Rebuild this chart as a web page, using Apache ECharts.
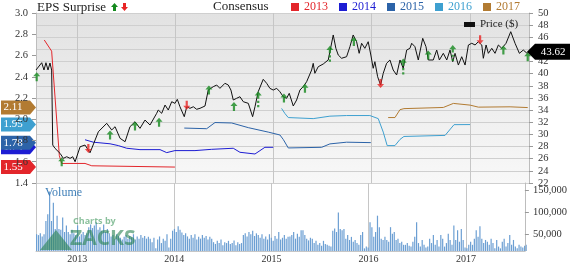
<!DOCTYPE html>
<html><head><meta charset="utf-8">
<script src="https://cdn.jsdelivr.net/npm/echarts@6/dist/echarts.min.js"></script>
<style>html,body{margin:0;padding:0;background:#fff}#c{width:570px;height:264px}</style>
</head><body><div id="c"></div><script>
// ---- data (x in decimal years) ----
const price = [[2012.583,40.61],[2012.641,41.81],[2012.664,40.61],[2012.684,41.81],[2012.705,40.61],[2012.725,41.76],[2012.742,40.6],[2012.753,28.25],[2012.776,27.71],[2012.827,26.89],[2012.861,26.06],[2012.895,26.33],[2012.929,26.06],[2012.956,26.33],[2012.980,25.5],[2013.031,27.97],[2013.081,28.25],[2013.132,26.98],[2013.217,30.44],[2013.302,31.83],[2013.353,30.73],[2013.387,31.27],[2013.438,29.36],[2013.489,28.8],[2013.539,31.27],[2013.590,32.09],[2013.641,31.0],[2013.692,32.37],[2013.743,31.55],[2013.811,33.48],[2013.827,34.02],[2013.862,33.48],[2013.896,34.84],[2013.929,34.02],[2013.964,35.39],[2013.997,35.12],[2014.021,35.78],[2014.048,34.56],[2014.092,32.92],[2014.117,34.56],[2014.150,34.30],[2014.184,34.56],[2014.218,34.14],[2014.252,34.30],[2014.303,34.68],[2014.336,37.31],[2014.387,37.86],[2014.422,38.14],[2014.455,37.59],[2014.506,38.42],[2014.540,38.14],[2014.567,37.31],[2014.591,35.67],[2014.625,35.95],[2014.659,36.21],[2014.693,35.39],[2014.744,35.12],[2014.788,32.92],[2014.812,34.56],[2014.845,37.03],[2014.896,39.08],[2014.931,38.42],[2014.964,37.59],[2014.998,37.31],[2015.033,37.59],[2015.066,37.03],[2015.100,36.21],[2015.134,35.95],[2015.161,36.77],[2015.202,34.68],[2015.236,35.67],[2015.270,37.31],[2015.303,37.86],[2015.338,38.68],[2015.389,40.61],[2015.405,41.71],[2015.422,40.07],[2015.456,41.15],[2015.507,41.6],[2015.558,42.26],[2015.575,43.62],[2015.609,46.38],[2015.636,44.18],[2015.660,43.08],[2015.694,42.54],[2015.745,42.8],[2015.779,44.45],[2015.812,46.38],[2015.847,45.27],[2015.873,43.36],[2015.898,45.01],[2015.931,44.18],[2015.965,45.27],[2015.992,43.08],[2016.016,40.89],[2016.033,41.98],[2016.061,39.51],[2016.091,38.14],[2016.118,40.07],[2016.152,41.71],[2016.186,42.26],[2016.219,40.61],[2016.254,39.79],[2016.288,42.26],[2016.321,40.89],[2016.356,43.9],[2016.389,44.18],[2016.407,45.01],[2016.440,44.45],[2016.474,42.26],[2016.519,45.83],[2016.552,44.45],[2016.576,42.26],[2016.626,42.26],[2016.661,43.9],[2016.688,42.26],[2016.728,43.36],[2016.763,42.26],[2016.796,43.9],[2016.824,41.98],[2016.847,43.36],[2016.881,41.43],[2016.915,42.8],[2016.949,41.43],[2016.983,44.73],[2017.017,45.01],[2017.051,44.73],[2017.084,45.27],[2017.119,44.73],[2017.135,42.54],[2017.163,44.73],[2017.186,43.36],[2017.221,44.18],[2017.254,43.36],[2017.288,44.73],[2017.323,44.18],[2017.366,45.01],[2017.414,46.92],[2017.458,45.01],[2017.502,43.36],[2017.542,43.9],[2017.580,43.36],[2017.600,43.62]];

const cons2013 = [[2012.667,2.746],[2012.742,2.641],[2012.820,1.657],[2012.844,1.584],[2013.081,1.584],[2013.150,1.562],[2013.997,1.55]];
const cons2014 = [[2013.081,1.807],[2013.166,1.784],[2013.336,1.769],[2013.420,1.752],[2013.506,1.727],[2013.641,1.714],[2013.845,1.714],[2013.862,1.705],[2013.913,1.686],[2013.997,1.705],[2014.201,1.705],[2014.371,1.717],[2014.591,1.727],[2014.659,1.689],[2014.812,1.673],[2014.913,1.736],[2014.998,1.736]];
const cons2015 = [[2014.092,1.917],[2014.320,1.911],[2014.405,1.969],[2014.575,1.965],[2014.744,1.921],[2014.947,1.879],[2015.066,1.852],[2015.100,1.81],[2015.151,1.73],[2015.491,1.736],[2015.575,1.768],[2015.745,1.784],[2015.992,1.78]];
const cons2016 = [[2015.083,2.102],[2015.117,2.054],[2015.151,2.016],[2015.405,2.006],[2015.575,2.029],[2015.745,2.035],[2015.982,2.035],[2016.067,2.006],[2016.118,1.879],[2016.158,1.752],[2016.237,1.752],[2016.288,1.81],[2016.328,1.838],[2016.746,1.848],[2016.837,1.949],[2017.0,1.95]];
const cons2017 = [[2016.168,2.016],[2016.237,2.016],[2016.288,2.09],[2016.328,2.10],[2016.728,2.111],[2016.830,2.149],[2017.0,2.133],[2017.084,2.114],[2017.407,2.117],[2017.587,2.11]];

const surpriseUp = [[2012.590,39.5],[2012.844,25.5],[2013.336,29.9],[2013.590,31.4],[2013.835,32.0],[2014.343,37.3],[2014.598,34.6],[2015.107,36.0],[2015.321,37.6],[2015.819,45.3],[2016.575,43.1],[2017.339,43.9],[2017.587,42.8]];
const surpriseUpBig = [[2014.845,35.8],[2015.575,43.3],[2016.321,41.2],[2016.824,43.4]];
const surpriseDown = [[2013.115,27.7],[2014.117,34.8],[2016.091,38.4],[2017.102,45.6]];

// weekly volume, thousands of shares
const volumeK = [50,48,52,45,50, 80,95,147,80,121, 62,92,62,60,88,55,70, 55,50,60,52,48,70,45,50,55,48,52,
66,72,64,70,77,60,66,58,72,55,62,52, 45,48,40,50,46,42,38,44,48,40,46,43,50,38,45,40,48,42,46,40,44,
40,32,42,18,38,45,30,40,35,50,20,40, 58,62,55,68,60,54,48,52, 45,40,48,42,50,38,44,40,48,42,46,38,44,40,
32,28,35,30,38,25,32,30,35,28,30,36,25,32,28,30, 48,52,45,55,50,58,46,52,48,42,50, 40,45,38,50,42,35,46,40,55,38,42,48,40,44,
45,48,55,40,51,44,59, 59,48,40,36,42,40,30,35, 26,30,24,35,28,26,24,22, 58,63,55,99,62,59,62,40,
48,37,44,33,37,30,26,48,55,18,22,20, 77,66,44,55,92,66,40,37,44,37,33, 66,51,55,37,40,30,33,26,26,30,24,
22,33,44,77,30,22,37,26,20,22,40,30, 48,26,37,22,48,40,22,30,51,37,26, 70,37,59,33,62,37,20,18,
26,33,26,40,59,44,68,40,30,37,33, 26,40,30,18,37,22,18,33,40,22,30, 48,26,37,22,18,26,22,20,24,26];
const volumeStart = 2012.583;
const xRange = [2012.583, 2017.60];
const years = ['2013','2014','2015','2016','2017'];

const colors = {'2013':'#e3262b','2014':'#1d1dd3','2015':'#2c63a8','2016':'#3ea0d0','2017':'#b27b32'};
const FONT = 'Liberation Serif';

function yr(d){const Y=Math.floor(d);const a=Date.UTC(Y,0,1),b=Date.UTC(Y+1,0,1);return a+(d-Y)*(b-a);}
const conv = arr => arr.map(p=>[yr(p[0]),p[1]]);
const WEEK = 7*86400000;
const volData = volumeK.map((v,i)=>[yr(volumeStart)+i*WEEK, v]);

const upPath = 'path://M3.5,0 L7,4 L4.6,4 L4.6,9 L2.4,9 L2.4,4 L0,4 Z';
const upBigPath = 'path://M3.5,0 L7,4 L4.6,4 L4.6,7 L2.4,7 L2.4,4 L0,4 Z M2.4,9 L4.6,9 L4.6,11 L2.4,11 Z M2.4,13 L4.6,13 L4.6,15 L2.4,15 Z';
const downPath = 'path://M2.4,0 L4.6,0 L4.6,5 L7,5 L3.5,9 L0,5 L2.4,5 Z';

const chart = echarts.init(document.getElementById('c'), null, {renderer:'canvas'});
const consSeries = [['2013',cons2013],['2014',cons2014],['2015',cons2015],['2016',cons2016],['2017',cons2017]].map(([n,d])=>({
  name:n, type:'line', xAxisIndex:0, yAxisIndex:0, data:conv(d), showSymbol:false, symbol:'none',
  lineStyle:{color:colors[n], width:1}, itemStyle:{color:colors[n]}, z:3, animation:false
}));

const xCommon = {type:'time', min:yr(xRange[0]), max:yr(xRange[1]), minInterval:365*86400000, maxInterval:366*86400000,
  splitLine:{show:true, lineStyle:{color:'#c6c6c6', width:1}}, axisTick:{show:false}};

chart.setOption({
  animation:false,
  textStyle:{fontFamily:FONT},
  grid:[
    {left:36, right:41, top:13, height:170, show:true, borderWidth:0,
     backgroundColor:{type:'linear',x:0,y:0,x2:0,y2:1,colorStops:[{offset:0,color:'#e2e2e2'},{offset:1,color:'#f8f8f8'}]}},
    {left:36, right:41, top:183, height:70, show:false}
  ],
  legend:[
    {data:years.map(y=>({name:y, textStyle:{color:colors[y]}})), left:291, top:1, padding:0, icon:'rect',
     itemWidth:8, itemHeight:8, itemGap:11, selectedMode:false, textStyle:{fontSize:12, fontFamily:FONT}},
    {data:['Price ($)'], left:464, top:19, padding:0, icon:'rect', itemWidth:11, itemHeight:5, selectedMode:false,
     textStyle:{fontSize:11, fontFamily:FONT, color:'#222'}}
  ],
  xAxis:[
    Object.assign({}, xCommon, {gridIndex:0, axisLine:{show:false}, axisLabel:{show:false}}),
    Object.assign({}, xCommon, {gridIndex:1, axisLine:{show:true, lineStyle:{color:'#c6c6c6'}},
      axisLabel:{show:true, fontSize:10, fontFamily:FONT, color:'#333', margin:3,
        formatter:v=>{const d=new Date(v);return (d.getUTCMonth()===0)?String(d.getUTCFullYear()):'';}}})
  ],
  yAxis:[
    {type:'value', gridIndex:0, position:'left', min:1.4, max:3.0, interval:0.2, splitLine:{show:false},
     axisLine:{show:true, lineStyle:{color:'#bdbdbd'}}, axisTick:{show:true, length:4, lineStyle:{color:'#999'}},
     axisLabel:{fontSize:10.5, fontFamily:FONT, color:'#333', margin:8, formatter:v=>v.toFixed(1)}},
    {type:'value', gridIndex:0, position:'right', min:22, max:50, interval:2,
     splitLine:{show:true, lineStyle:{color:'#cfcfcf'}},
     axisLine:{show:true, lineStyle:{color:'#bdbdbd'}}, axisTick:{show:true, length:4, lineStyle:{color:'#999'}},
     axisLabel:{fontSize:10.5, fontFamily:FONT, color:'#333', margin:9}},
    {type:'value', gridIndex:1, position:'right', min:12, max:166, splitLine:{show:false},
     axisLine:{show:true, lineStyle:{color:'#bdbdbd'}},
     axisTick:{show:true, length:4, lineStyle:{color:'#999'}, customValues:[50,100,150]},
     axisLabel:{fontSize:10.5, fontFamily:FONT, color:'#333', margin:8, customValues:[50,100,150],
       formatter:v=>(v*1000).toLocaleString('en-US')}}
  ],
  series:[
    ...consSeries,
    {name:'Price ($)', type:'line', xAxisIndex:0, yAxisIndex:1, data:conv(price), showSymbol:false, symbol:'none',
     lineStyle:{color:'#111', width:1}, itemStyle:{color:'#111'}, z:4},
    {name:'up', type:'scatter', xAxisIndex:0, yAxisIndex:1, data:conv(surpriseUp), symbol:upPath, symbolSize:[7,9],
     itemStyle:{color:'#168a1f'}, z:6, clip:false},
    {name:'upBig', type:'scatter', xAxisIndex:0, yAxisIndex:1, data:conv(surpriseUpBig), symbol:upBigPath, symbolSize:[7,16],
     itemStyle:{color:'#168a1f'}, z:6, clip:false},
    {name:'down', type:'scatter', xAxisIndex:0, yAxisIndex:1, data:conv(surpriseDown), symbol:downPath, symbolSize:[7,9],
     itemStyle:{color:'#e82424'}, z:6, clip:false},
    {name:'Volume', type:'bar', xAxisIndex:1, yAxisIndex:2, data:volData, barWidth:1.2, itemStyle:{color:'#6c9fd3'}, z:2}
  ]
});

// value tags from latest values (later ones drawn on top)
const tagDefs = [['2014',cons2014],['2013',cons2013],['2015',cons2015],['2016',cons2016],['2017',cons2017]];
const gfx = [];
tagDefs.forEach(([n,d],i)=>{
  const v = d[d.length-1][1];
  const y = chart.convertToPixel({yAxisIndex:0}, v);
  const g = {type:'group', z:50+i, children:[
    {type:'polygon', shape:{points:[[1,y-7],[30,y-7],[36,y],[30,y+7],[1,y+7]]}, style:{fill:colors[n]}},
    {type:'text', x:13, y:y, style:{text:v.toFixed(2), fill:'#fff', font:'11px '+FONT, align:'center', verticalAlign:'middle'}}
  ]};
  gfx.push(g);
});
const lastP = price[price.length-1][1];
const py = chart.convertToPixel({yAxisIndex:1}, lastP);
gfx.push({type:'polygon', shape:{points:[[527,py],[535,py-8],[570,py-8],[570,py+8],[535,py+8]]}, style:{fill:'#000'}, z:60});
gfx.push({type:'text', x:553, y:py, style:{text:lastP.toFixed(2), fill:'#fff', font:'11px '+FONT, align:'center', verticalAlign:'middle'}, z:61});
// header texts
gfx.push({type:'text', x:37, y:1, style:{text:'EPS Surprise', fill:'#222', font:'13px '+FONT}, z:50});
gfx.push({type:'polygon', shape:{points:[[114.5,3],[118,7],[116,7],[116,11],[113,11],[113,7],[111,7]]}, style:{fill:'#168a1f'}, z:50});
gfx.push({type:'polygon', shape:{points:[[123,3],[126,3],[126,7],[128,7],[124.5,11],[121,7],[123,7]]}, style:{fill:'#e82424'}, z:50});
gfx.push({type:'text', x:213, y:0, style:{text:'Consensus', fill:'#222', font:'13px '+FONT}, z:50});
gfx.push({type:'text', x:45, y:187, style:{text:'Volume', fill:'#3f7fb8', font:'12px '+FONT}, z:50});
// watermark
gfx.push({type:'text', x:73, y:217, style:{text:'Charts by', fill:'rgba(60,150,90,0.6)', font:'bold 9px Open Sans'}, z:40});
gfx.push({type:'text', x:70, y:229, style:{text:'ZACKS', fill:'rgba(40,130,80,0.6)', font:'bold 21px Open Sans'}, z:40});
gfx.push({type:'polygon', shape:{points:[[56,230],[72,250],[40,250]]}, style:{fill:'rgba(40,130,80,0.6)'}, z:40});
chart.setOption({graphic:gfx});
</script></body></html>
